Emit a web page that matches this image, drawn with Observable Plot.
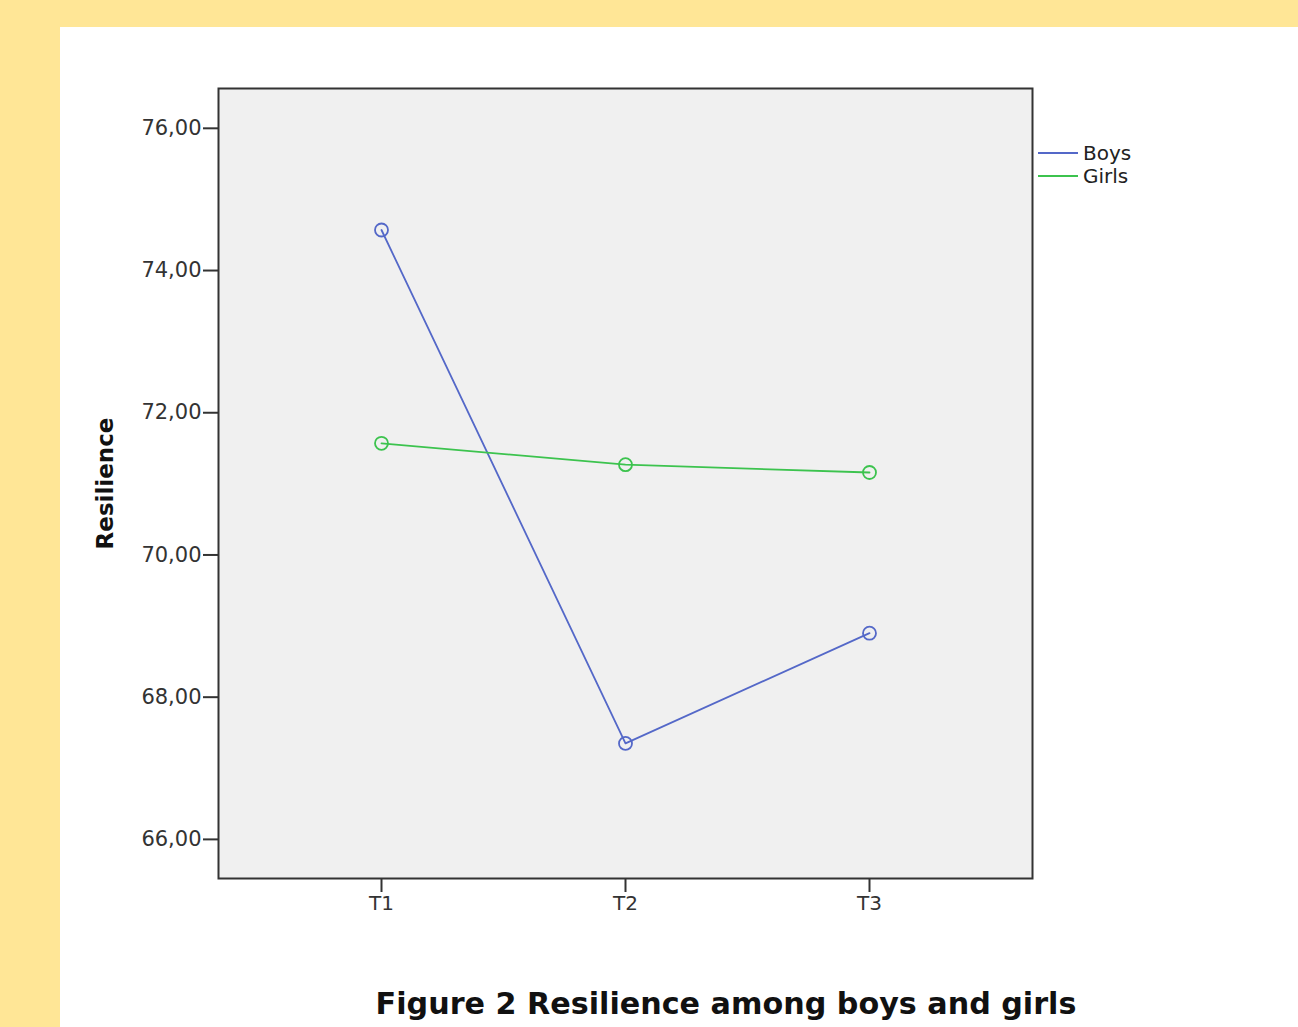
<!DOCTYPE html>
<html>
<head>
<meta charset="utf-8">
<script src="https://cdn.jsdelivr.net/npm/d3@7"></script>
<script src="https://cdn.jsdelivr.net/npm/@observablehq/plot@0.6"></script>
<style>
  html, body { margin: 0; padding: 0; }
  body { width: 1298px; height: 1027px; background: #FFE696; position: relative; overflow: hidden; font-family: "DejaVu Sans", sans-serif; }
  #panel { position: absolute; left: 60px; top: 27px; width: 1238px; height: 1000px; background: #ffffff; }
  #chart { position: absolute; left: 0; top: 0; }
  .legend { position: absolute; left: 978px; top: 114px; font-size: 20px; color: #222; }
  .legend .item { display: flex; align-items: center; height: 23px; }
  .legend .sw { width: 40px; height: 2px; margin-right: 5px; }
  #caption { position: absolute; left: 0; width: 1332px; top: 959px; text-align: center; font-weight: bold; font-size: 30.2px; color: #111; }
</style>
</head>
<body>
<div id="panel">
  <div id="chart"></div>
  <div class="legend" id="legend"></div>
  <div id="caption">Figure 2 Resilience among boys and girls</div>
</div>
<script>
const times = ["T1", "T2", "T3"];
const groups = ["Boys", "Girls"];
const boys = [74.57, 67.35, 68.90];
const girls = [71.57, 71.27, 71.16];
const yTicks = [66, 68, 70, 72, 74, 76];
const colors = ["#5468c8", "#3cc34e"];

const rows = [];
times.forEach((t, i) => {
  rows.push({time: t, group: "Boys", value: boys[i]});
  rows.push({time: t, group: "Girls", value: girls[i]});
});

const chart = Plot.plot({
  width: 1238,
  height: 920,
  marginLeft: 158,
  marginTop: 61,
  marginRight: 266,
  marginBottom: 69,
  style: {fontFamily: "DejaVu Sans, sans-serif", background: "transparent"},
  x: {type: "point", domain: times, padding: 0.665},
  y: {domain: [65.45, 76.56]},
  color: {domain: groups, range: colors},
  marks: [
    Plot.frame({fill: "#f0f0f0"}),
    Plot.axisY({ticks: yTicks, tickFormat: d => d.toFixed(2).replace(".", ","), tickSize: 15, tickPadding: 2, fontSize: 21, color: "#333", strokeWidth: 2, label: null}),
    Plot.axisX({tickSize: 14, tickPadding: 3, fontSize: 20, color: "#333", strokeWidth: 2, label: null}),
    Plot.line(rows, {x: "time", y: "value", stroke: "group", z: "group", strokeWidth: 1.8}),
    Plot.dot(rows, {x: "time", y: "value", stroke: "group", r: 6.5, strokeWidth: 1.8, fill: "none"}),
    Plot.frame({stroke: "#333", strokeWidth: 2}),
    Plot.text(["Resilience"], {frameAnchor: "left", textAnchor: "middle", rotate: -90, dx: -113, fontWeight: "bold", fontSize: 23, fill: "#111", text: d => d})
  ]
});
document.getElementById("chart").appendChild(chart);

const legend = document.getElementById("legend");
groups.forEach((g, i) => {
  const item = document.createElement("div");
  item.className = "item";
  const sw = document.createElement("div");
  sw.className = "sw";
  sw.style.background = colors[i];
  const lab = document.createElement("span");
  lab.textContent = g;
  item.appendChild(sw);
  item.appendChild(lab);
  legend.appendChild(item);
});
</script>
</body>
</html>
